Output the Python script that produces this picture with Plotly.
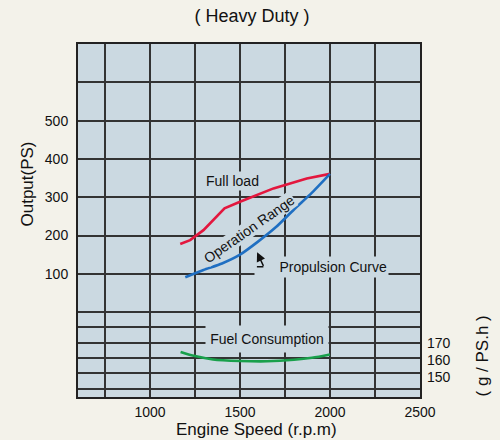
import plotly.graph_objects as go

# ---- data ----
rpm_full = [1168, 1223, 1297, 1352, 1414, 1500, 1590, 1686, 1871, 2000]
ps_full = [178, 188, 214, 240, 271, 288, 305, 323, 349, 361]

rpm_prop = [1196, 1297, 1400, 1500, 1600, 1700, 1800, 1900, 2000]
ps_prop = [91, 110, 127, 150, 184, 222, 268, 312, 361]

rpm_fuel = [1170, 1250, 1350, 1500, 1650, 1800, 1900, 2000]
gph_fuel = [165, 162.5, 160.5, 159.6, 159.4, 160.3, 161.5, 163.5]

x_ticks = [750, 1000, 1250, 1500, 1750, 2000, 2250, 2500]
x_labels = ["", "1000", "", "1500", "", "2000", "", "2500"]
ps_ticks = [-200, -160, -120, -80, -40, 0, 100, 200, 300, 400, 500, 600, 700]
ps_labels = ["", "", "", "", "", "", "100", "200", "300", "400", "500", "", ""]
fuel_ticks = [150, 160, 170]
fuel_labels = ["150", "160", "170"]

FONT = "Liberation Sans, Arial, Helvetica, sans-serif"
PAGE_BG = "#f3f2ea"
PLOT_BG = "#cbd9e1"
GRID = "#333333"

fig = go.Figure()
fig.add_trace(go.Scatter(x=rpm_full, y=ps_full, mode="lines", name="Full load",
                         line=dict(color="#e3173e", width=2.6), yaxis="y"))
fig.add_trace(go.Scatter(x=rpm_prop, y=ps_prop, mode="lines", name="Propulsion Curve",
                         line=dict(color="#1f6fc2", width=2.6, shape="spline", smoothing=0.6), yaxis="y"))
fig.add_trace(go.Scatter(x=rpm_fuel, y=gph_fuel, mode="lines", name="Fuel Consumption",
                         line=dict(color="#19a04b", width=2.6, shape="spline", smoothing=0.8), yaxis="y2"))

def px_x(p):
    return (p - 78) / 342.0

def px_y(p):
    return (397 - p) / 353.0

annotations = [
    # axis titles
    dict(text="Engine Speed (r.p.m)", x=px_x(256), y=px_y(429), xref="paper", yref="paper",
         showarrow=False, font=dict(size=17, family=FONT, color="#111"), xanchor="center", yanchor="middle"),
    dict(text="Output(PS)", x=px_x(26.5), y=px_y(184), xref="paper", yref="paper", textangle=-90,
         showarrow=False, font=dict(size=17, family=FONT, color="#111"), xanchor="center", yanchor="middle"),
    dict(text="( g / PS.h )", x=px_x(481.5), y=px_y(356), xref="paper", yref="paper", textangle=-90,
         showarrow=False, font=dict(size=17, family=FONT, color="#111"), xanchor="center", yanchor="middle"),
    # in-plot labels
    dict(text="Full load", x=1460, y=343, xref="x", yref="y", showarrow=False,
         font=dict(size=14, family=FONT, color="#111"), bgcolor=PLOT_BG, borderpad=1),
    dict(text="Operation Range", x=1552, y=216, xref="x", yref="y", showarrow=False, textangle=-35,
         font=dict(size=14, family=FONT, color="#111"), bgcolor=PLOT_BG, borderpad=0),
    dict(text="Propulsion Curve", x=1950, y=117.5, xref="x", yref="y", showarrow=False,
         width=131, height=18, align="right",
         font=dict(size=14, family=FONT, color="#111"), bgcolor=PLOT_BG, borderpad=1),
    dict(text="Fuel Consumption", x=1648, y=-69, xref="x", yref="y", showarrow=False,
         width=120, height=24,
         font=dict(size=14, family=FONT, color="#111"), bgcolor=PLOT_BG, borderpad=1),
    # bent pointer arrow
    dict(text="", x=1595, y=156, xref="x", yref="y", ax=7, ay=15, axref="pixel", ayref="pixel",
         showarrow=True, arrowhead=2, arrowsize=1.2, arrowwidth=1.5, arrowcolor="#111"),
    dict(text="", x=1630, y=118.3, xref="x", yref="y", ax=-8, ay=0, axref="pixel", ayref="pixel",
         showarrow=True, arrowhead=0, arrowwidth=1.5, arrowcolor="#111", standoff=0),
]

fig.update_layout(
    width=500, height=440,
    margin=dict(l=78, r=80, t=44, b=43, pad=0),
    paper_bgcolor=PAGE_BG, plot_bgcolor=PLOT_BG,
    showlegend=False,
    font=dict(family=FONT, size=14, color="#111"),
    title=dict(text="( Heavy Duty )", x=252 / 500, y=1 - 16 / 440, xref="container", yref="container",
               xanchor="center", yanchor="middle", font=dict(size=18, family=FONT, color="#111")),
    xaxis=dict(range=[600, 2500], tickvals=x_ticks, ticktext=x_labels, showgrid=True,
               gridcolor=GRID, gridwidth=1.5, zeroline=False, showline=True, linecolor="#222",
               linewidth=2, mirror=True, ticks="", tickfont=dict(size=14, family=FONT, color="#111"),
               ticklabelstandoff=1),
    yaxis=dict(range=[-221.6, 700], tickvals=ps_ticks, ticktext=ps_labels, showgrid=True,
               gridcolor=GRID, gridwidth=1.5, zeroline=False, showline=True, linecolor="#222",
               linewidth=2, mirror=True, ticks="", tickfont=dict(size=14, family=FONT, color="#111"),
               ticklabelstandoff=5),
    yaxis2=dict(range=[138, 349.4], overlaying="y", side="right", tickvals=fuel_ticks,
                ticktext=fuel_labels, showgrid=False, zeroline=False, showline=False, ticks="",
                tickfont=dict(size=14, family=FONT, color="#111"), ticklabelstandoff=6),
    annotations=annotations,
)

fig.write_html("out.html", config={"displayModeBar": False},
               post_script="document.body.style.margin='0';document.body.style.padding='0';"
                           "document.body.style.background='%s';" % PAGE_BG)
